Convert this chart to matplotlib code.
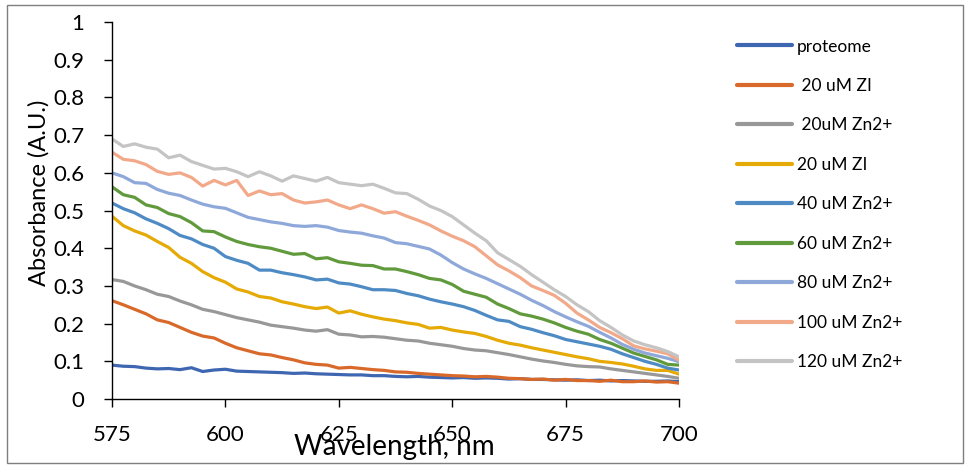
# -*- coding: utf-8 -*-

import numpy as np
import matplotlib
matplotlib.use('Agg')
import matplotlib.pyplot as plt
from matplotlib.patches import Rectangle

plt.rcParams['font.family'] = ['Lato', 'DejaVu Sans']


# %% ---------------------------------------------------------------------------
# data (2.5 nm step)

wavelength = np.arange(575.0, 700.1, 2.5)

labels = ['proteome', ' 20 uM ZI', ' 20uM Zn2+', '20 uM ZI', '40 uM Zn2+',
          '60 uM Zn2+', '80 uM Zn2+', '100 uM Zn2+', '120 uM Zn2+']

a_proteome = [0.090, 0.087, 0.086, 0.082, 0.080, 0.081, 0.078, 0.083, 0.073, 0.077,
              0.079, 0.074, 0.073, 0.072, 0.071, 0.070, 0.068, 0.069, 0.067, 0.066,
              0.065, 0.064, 0.064, 0.062, 0.062, 0.060, 0.059, 0.060, 0.058, 0.057,
              0.056, 0.057, 0.055, 0.056, 0.055, 0.053, 0.054, 0.052, 0.052, 0.051,
              0.050, 0.051, 0.049, 0.050, 0.048, 0.049, 0.048, 0.047, 0.047, 0.048,
              0.046]

a_zi20a = [0.261, 0.250, 0.238, 0.226, 0.210, 0.203, 0.190, 0.177, 0.167, 0.162,
           0.148, 0.136, 0.128, 0.120, 0.117, 0.110, 0.104, 0.096, 0.092, 0.090,
           0.082, 0.084, 0.081, 0.078, 0.076, 0.072, 0.071, 0.068, 0.066, 0.064,
           0.062, 0.061, 0.059, 0.060, 0.058, 0.055, 0.054, 0.052, 0.053, 0.050,
           0.052, 0.049, 0.049, 0.047, 0.050, 0.046, 0.046, 0.048, 0.045, 0.046,
           0.042]

a_zn20 = [0.317, 0.312, 0.300, 0.290, 0.278, 0.272, 0.260, 0.250, 0.238, 0.232,
          0.224, 0.216, 0.210, 0.204, 0.196, 0.192, 0.188, 0.183, 0.180, 0.184,
          0.172, 0.170, 0.165, 0.166, 0.164, 0.160, 0.156, 0.154, 0.148, 0.144,
          0.140, 0.134, 0.130, 0.128, 0.123, 0.118, 0.112, 0.106, 0.101, 0.097,
          0.092, 0.088, 0.086, 0.085, 0.080, 0.076, 0.072, 0.068, 0.064, 0.060,
          0.055]

a_zi20b = [0.485, 0.460, 0.446, 0.435, 0.418, 0.402, 0.376, 0.360, 0.338, 0.322,
           0.310, 0.292, 0.284, 0.272, 0.268, 0.258, 0.252, 0.245, 0.240, 0.244,
           0.228, 0.234, 0.225, 0.218, 0.212, 0.208, 0.202, 0.198, 0.188, 0.190,
           0.183, 0.178, 0.174, 0.166, 0.156, 0.148, 0.143, 0.136, 0.130, 0.124,
           0.118, 0.112, 0.107, 0.100, 0.097, 0.093, 0.087, 0.080, 0.076, 0.076,
           0.066]

a_zn40 = [0.520, 0.505, 0.494, 0.478, 0.466, 0.452, 0.434, 0.425, 0.410, 0.400,
          0.378, 0.368, 0.360, 0.342, 0.342, 0.335, 0.330, 0.324, 0.316, 0.318,
          0.308, 0.305, 0.298, 0.290, 0.290, 0.288, 0.280, 0.274, 0.265, 0.258,
          0.252, 0.245, 0.235, 0.222, 0.210, 0.206, 0.192, 0.185, 0.176, 0.168,
          0.158, 0.152, 0.146, 0.140, 0.132, 0.120, 0.110, 0.100, 0.092, 0.082,
          0.077]

a_zn60 = [0.563, 0.542, 0.535, 0.515, 0.508, 0.492, 0.484, 0.468, 0.446, 0.444,
          0.430, 0.418, 0.410, 0.404, 0.400, 0.392, 0.384, 0.386, 0.372, 0.375,
          0.364, 0.360, 0.355, 0.354, 0.345, 0.345, 0.338, 0.330, 0.320, 0.316,
          0.304, 0.286, 0.278, 0.270, 0.252, 0.240, 0.226, 0.220, 0.212, 0.202,
          0.190, 0.180, 0.172, 0.158, 0.148, 0.135, 0.122, 0.113, 0.104, 0.092,
          0.090]

a_zn80 = [0.600, 0.590, 0.574, 0.572, 0.556, 0.546, 0.540, 0.528, 0.517, 0.510,
          0.506, 0.494, 0.482, 0.476, 0.470, 0.466, 0.460, 0.458, 0.460, 0.456,
          0.447, 0.443, 0.440, 0.433, 0.427, 0.415, 0.412, 0.405, 0.398, 0.382,
          0.362, 0.345, 0.332, 0.320, 0.306, 0.292, 0.278, 0.262, 0.248, 0.232,
          0.218, 0.205, 0.193, 0.177, 0.162, 0.145, 0.132, 0.122, 0.115, 0.108,
          0.099]

a_zn100 = [0.655, 0.636, 0.632, 0.622, 0.604, 0.596, 0.600, 0.588, 0.565, 0.580,
           0.568, 0.580, 0.540, 0.552, 0.542, 0.545, 0.528, 0.520, 0.523, 0.528,
           0.515, 0.505, 0.515, 0.505, 0.493, 0.497, 0.485, 0.474, 0.462, 0.446,
           0.432, 0.420, 0.404, 0.380, 0.356, 0.340, 0.322, 0.300, 0.288, 0.275,
           0.254, 0.228, 0.210, 0.190, 0.176, 0.160, 0.141, 0.133, 0.127, 0.120,
           0.103]

a_zn120 = [0.690, 0.670, 0.677, 0.668, 0.663, 0.640, 0.647, 0.630, 0.620, 0.610,
           0.612, 0.603, 0.590, 0.603, 0.592, 0.578, 0.592, 0.585, 0.578, 0.588,
           0.574, 0.570, 0.566, 0.570, 0.559, 0.547, 0.545, 0.530, 0.512, 0.500,
           0.484, 0.462, 0.440, 0.420, 0.388, 0.370, 0.352, 0.330, 0.310, 0.290,
           0.272, 0.250, 0.232, 0.208, 0.190, 0.170, 0.154, 0.144, 0.136, 0.126,
           0.112]

series = [a_proteome, a_zi20a, a_zn20, a_zi20b, a_zn40,
          a_zn60, a_zn80, a_zn100, a_zn120]

colors = ['#3F67B1', '#D9692A', '#989898', '#E5AA05', '#4E8BC4',
          '#609A3C', '#8FA8DA', '#F2A98A', '#C4C4C4']


# %% ---------------------------------------------------------------------------

fig = plt.figure(figsize=(9.67, 4.70), dpi=100)
ax = fig.add_axes([0.1158, 0.151, 0.5864, 0.802])

#------------------
for yy, lab, col in zip(series, labels, colors):
    ax.plot(wavelength, yy, '-', lw=2.3, color=col, label=lab,
            solid_capstyle='round', solid_joinstyle='round')

#------------------
ax.set_xlim(575, 700)
ax.set_ylim(0, 1)
ax.set_xticks([575, 600, 625, 650, 675, 700])
ax.set_yticks(np.arange(0, 1.01, 0.1))
ax.set_yticklabels(['0', '0.1', '0.2', '0.3', '0.4', '0.5',
                    '0.6', '0.7', '0.8', '0.9', '1'])

for side in ['top', 'right']:
    ax.spines[side].set_visible(False)
for side in ['left', 'bottom']:
    ax.spines[side].set_linewidth(1.0)
    ax.spines[side].set_color('black')

ax.tick_params(axis='x', direction='out', length=6, width=1.0,
               labelsize=16, pad=13)
ax.tick_params(axis='y', direction='out', length=6, width=1.0,
               labelsize=16, pad=14)

#------------------
fig.text(0.408, 1 - 455 / 470, 'Wavelength, nm', fontsize=20,
         ha='center', va='baseline')
fig.text(39 / 967, 1 - 192.5 / 470, 'Absorbance (A.U.)', fontsize=17,
         rotation=90, ha='center', va='center')

#------------------
handles_ax, labels_ax = ax.get_legend_handles_labels()
leg = fig.legend(handles_ax, labels_ax, loc='upper left',
                 bbox_to_anchor=(0.762, 0.918), frameon=False,
                 fontsize=12.5, handlelength=3.2, handletextpad=0.25,
                 labelspacing=1.35, borderpad=0, borderaxespad=0)
for ln in leg.get_lines():
    ln.set_linewidth(3.0)

#------------------
fig.patches.append(Rectangle((7 / 967, 7 / 470), 956 / 967, 458 / 470,
                             transform=fig.transFigure, fill=False,
                             edgecolor='#7f7f7f', lw=1.0))

plt.savefig('out.png', dpi=100)
